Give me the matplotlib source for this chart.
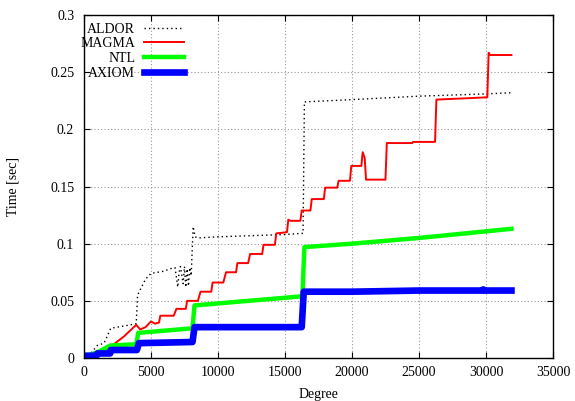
import numpy as np
import matplotlib
matplotlib.use("Agg")
import matplotlib.pyplot as plt

plt.rcParams['font.family'] = ['Liberation Serif', 'DejaVu Serif']
plt.rcParams['font.size'] = 10

# ALDOR (black dotted)
aldor_x = [0, 500, 1000, 1500, 2000, 3000, 3900, 4000, 4300, 4600, 5000, 6000, 6400,
           6800, 7000, 7100, 7200, 7400, 7500, 7600, 7700, 7800, 7900, 8000, 8150,
           8300, 8500, 10000, 15000, 16200, 16350, 16450, 20000, 25000, 30000, 31900]
aldor_y = [0.0, 0.004, 0.011, 0.013, 0.026, 0.028, 0.030, 0.055, 0.062, 0.069, 0.074, 0.076, 0.078,
           0.079, 0.062, 0.075, 0.080, 0.065, 0.080, 0.062, 0.078, 0.063, 0.079, 0.072, 0.115,
           0.106, 0.105, 0.106, 0.108, 0.109, 0.109, 0.224, 0.226, 0.229, 0.231, 0.232]

# MAGMA (red)
magma_x = [0, 500, 1000, 2000, 3000, 3900, 4200, 4600, 5000, 5300, 5600, 5700, 6700, 6900,
           7600, 7700, 8500, 8700, 9500, 9600, 10400, 10600, 11350, 11450, 12250, 12400,
           13300, 13400, 14250, 14350, 15150, 15250, 15400, 16150, 16250, 16900, 17000,
           17900, 18000, 18900, 19000, 19850, 19950, 20700, 20800, 20950, 21050, 22500,
           22600, 24500, 24550, 26200, 26300, 30100, 30200, 30300, 31900]
magma_y = [0.0, 0.001, 0.003, 0.010, 0.019, 0.029, 0.025, 0.027, 0.032, 0.030, 0.031, 0.037, 0.037, 0.043,
           0.043, 0.050, 0.050, 0.058, 0.058, 0.066, 0.066, 0.075, 0.075, 0.083, 0.083, 0.091,
           0.091, 0.099, 0.099, 0.109, 0.110, 0.121, 0.120, 0.120, 0.129, 0.129, 0.139,
           0.139, 0.149, 0.149, 0.155, 0.155, 0.168, 0.168, 0.180, 0.175, 0.156, 0.156,
           0.188, 0.188, 0.189, 0.189, 0.226, 0.228, 0.267, 0.265, 0.265]

# NTL (green)
ntl_x = [0, 500, 1000, 1500, 1800, 2000, 3900, 4050, 8100, 8250, 16300, 16450, 20000, 25000, 31900]
ntl_y = [0.002, 0.003, 0.005, 0.008, 0.010, 0.011, 0.012, 0.022, 0.026, 0.046, 0.054, 0.097, 0.100, 0.105, 0.113]

# AXIOM (blue)
axiom_x = [0, 950, 1000, 1950, 2000, 3950, 4100, 8100, 8250, 16250, 16400, 20000, 25000, 29700, 29800, 29900, 31900]
axiom_y = [0.002, 0.002, 0.004, 0.004, 0.007, 0.007, 0.013, 0.014, 0.027, 0.027, 0.058, 0.058, 0.059, 0.059, 0.060, 0.059, 0.059]

fig = plt.figure(figsize=(5.75, 4.01), dpi=100)
ax = fig.add_axes([0.146, 0.1072, 0.8157, 0.8554])

ax.plot(aldor_x, aldor_y, color='black', lw=1, linestyle=(0, (1, 2.2)), label='ALDOR')
ax.plot(magma_x, magma_y, color='#ff0000', lw=1.4, label='MAGMA')
ax.plot(ntl_x, ntl_y, color='#00ff00', lw=3.2, label='NTL')
ax.plot(axiom_x, axiom_y, color='#0000ff', lw=4.8, label='AXIOM')

ax.set_xlim(0, 35000)
ax.set_ylim(0, 0.3)
ax.set_xticks(np.arange(0, 35001, 5000))
ax.set_yticks([0, 0.05, 0.1, 0.15, 0.2, 0.25, 0.3])
ax.set_yticklabels(['0', '0.05', '0.1', '0.15', '0.2', '0.25', '0.3'])

ax.grid(True, color='#999999', linestyle=(0, (1, 2)), lw=0.8)
ax.tick_params(direction='in', top=True, right=True, length=4, width=0.8)
ax.tick_params(axis='x', pad=6)
ax.tick_params(axis='y', pad=7)
for s in ax.spines.values():
    s.set_linewidth(1.0)

ax.set_xlabel('Degree', labelpad=6)
ax.set_ylabel('Time [sec]', labelpad=22)

ax.legend(loc='upper right', bbox_to_anchor=(0.213, 0.978), frameon=False,
          markerfirst=False, borderpad=0, borderaxespad=0, handlelength=2.9,
          handletextpad=0.6, labelspacing=0.12)

fig.savefig('out.png', dpi=100)
